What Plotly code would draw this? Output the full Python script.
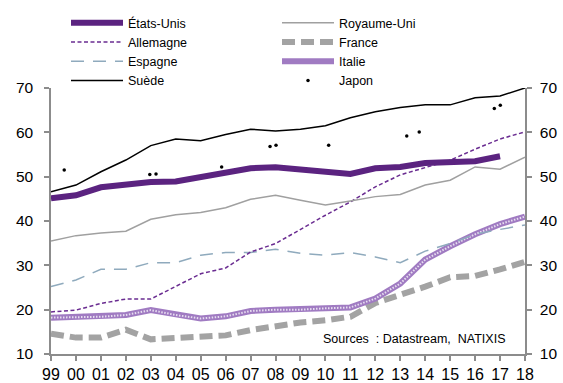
import plotly.graph_objects as go

years = list(range(1999, 2019))
year_labels = ["99", "00", "01", "02", "03", "04", "05", "06", "07", "08",
               "09", "10", "11", "12", "13", "14", "15", "16", "17", "18"]

etats_unis = [45.1, 45.8, 47.6, 48.3, 48.8, 48.9, 49.9, 51.1, 51.9, 52.1,
              51.5, 51.1, 50.6, 51.9, 52.2, 53.1, 53.2, 53.5, 54.6, None]
royaume_uni = [35.5, 36.7, 37.3, 37.7, 40.4, 41.4, 41.9, 43.0, 44.9, 45.8,
               44.7, 43.6, 44.5, 45.5, 46.0, 48.1, 49.2, 52.2, 51.7, 54.4]
allemagne = [19.5, 19.9, 21.4, 22.4, 22.4, 25.2, 28.1, 29.4, 33.0, 34.9,
             38.1, 41.3, 44.3, 47.7, 50.4, 52.1, 53.7, 56.2, 58.5, 60.1]
france = [14.6, 13.7, 13.7, 15.5, 13.3, 13.6, 14.0, 14.2, 15.4, 16.3,
          17.1, 17.6, 18.4, 21.5, 23.3, 25.2, 27.3, 27.6, 29.1, 30.8]
espagne = [25.2, 26.7, 29.1, 29.1, 30.6, 30.6, 32.3, 32.9, 32.9, 33.6,
           32.7, 32.3, 32.9, 31.9, 30.6, 33.2, 34.9, 37.0, 38.1, 39.1]
italie = [18.2, 18.3, 18.4, 18.8, 19.9, 18.8, 18.0, 18.5, 19.7, 20.0,
          20.0, 20.3, 20.5, 22.5, 25.9, 31.3, 34.3, 37.0, 39.3, 41.0]
suede = [46.6, 48.1, 51.1, 53.75, 57.0, 58.5, 58.1, 59.5, 60.7, 60.3,
         60.7, 61.5, 63.3, 64.65, 65.6, 66.2, 66.2, 67.8, 68.2, 70.0]

japon_x = [1999.53, 2002.96, 2003.21, 2005.84, 2007.78, 2008.02,
           2010.13, 2013.26, 2013.76, 2016.77, 2017.01]
japon_y = [51.5, 50.5, 50.6, 52.2, 56.8, 57.1, 57.1, 59.2, 60.1, 65.4, 66.1]

FONT = "Liberation Sans, Arial, sans-serif"

fig = go.Figure()

# Drawing order (back to front)
fig.add_trace(go.Scatter(x=years, y=france, mode="lines", name="France",
                         line=dict(color="#a3a3a3", width=6, dash="13px,6px"),
                         legend="legend2", legendrank=2))
fig.add_trace(go.Scatter(x=years, y=italie, mode="lines", name="Italie",
                         line=dict(color="#a07bc2", width=6),
                         legend="legend2", legendrank=3))
fig.add_trace(go.Scatter(x=years, y=italie, mode="lines", showlegend=False,
                         hoverinfo="skip",
                         line=dict(color="rgba(255,255,255,0.75)", width=2, dash="1.5px,1.5px")))
fig.add_trace(go.Scatter(x=years, y=espagne, mode="lines", name="Espagne",
                         line=dict(color="#8faabd", width=1.5, dash="13px,9px"),
                         legend="legend", legendrank=3))
fig.add_trace(go.Scatter(x=years, y=allemagne, mode="lines", name="Allemagne",
                         line=dict(color="#6a2c91", width=1.5, dash="4px,2.5px"),
                         legend="legend", legendrank=2))
fig.add_trace(go.Scatter(x=years, y=royaume_uni, mode="lines", name="Royaume-Uni",
                         line=dict(color="#a0a0a0", width=1.5),
                         legend="legend2", legendrank=1))
fig.add_trace(go.Scatter(x=years, y=suede, mode="lines", name="Suède",
                         line=dict(color="#000000", width=1.5),
                         legend="legend", legendrank=4))
fig.add_trace(go.Scatter(x=years, y=etats_unis, mode="lines", name="États-Unis",
                         line=dict(color="#5b2380", width=6),
                         legend="legend", legendrank=1))
fig.add_trace(go.Scatter(x=japon_x, y=japon_y, mode="markers", name="Japon",
                         marker=dict(color="#000000", size=3.5),
                         legend="legend2", legendrank=4, yaxis="y2"))

axis_color = "#8c8c8c"

fig.update_layout(
    width=563, height=383,
    margin=dict(l=51, r=38, t=88, b=29, autoexpand=False),
    paper_bgcolor="white", plot_bgcolor="white",
    font=dict(family=FONT, color="#000000"),
    showlegend=True,
    xaxis=dict(
        range=[1999, 2018], tickvals=years, ticktext=year_labels,
        showgrid=False, zeroline=False,
        showline=True, linecolor=axis_color, linewidth=1.5,
        ticks="outside", ticklen=5, tickcolor=axis_color, tickwidth=1.5,
        tickfont=dict(size=16, family=FONT, color="#000000"),
        ticklabelstandoff=0,
    ),
    yaxis=dict(
        range=[10, 70], tickvals=[10, 20, 30, 40, 50, 60, 70],
        showgrid=False, zeroline=False,
        showline=True, linecolor=axis_color, linewidth=1.5,
        ticks="outside", ticklen=5, tickcolor=axis_color, tickwidth=1.5,
        tickfont=dict(size=15.5, family=FONT, color="#000000"),
        ticklabelstandoff=8,
    ),
    yaxis2=dict(
        range=[10, 70], tickvals=[10, 20, 30, 40, 50, 60, 70],
        overlaying="y", side="right",
        showgrid=False, zeroline=False,
        showline=True, linecolor=axis_color, linewidth=1.5,
        ticks="outside", ticklen=5, tickcolor=axis_color, tickwidth=1.5,
        tickfont=dict(size=15.5, family=FONT, color="#000000"),
        ticklabelstandoff=5,
    ),
    legend=dict(
        xref="container", yref="container", x=66 / 563, y=1 - 8 / 383,
        xanchor="left", yanchor="top",
        orientation="v", itemwidth=52, traceorder="normal",
        font=dict(size=12.5, family=FONT, color="#000000"),
        bgcolor="rgba(0,0,0,0)", borderwidth=0,
    ),
    legend2=dict(
        xref="container", yref="container", x=277 / 563, y=1 - 8 / 383,
        xanchor="left", yanchor="top",
        orientation="v", itemwidth=52, traceorder="normal",
        font=dict(size=12.5, family=FONT, color="#000000"),
        bgcolor="rgba(0,0,0,0)", borderwidth=0,
    ),
    annotations=[dict(
        text="Sources  : Datastream,  NATIXIS",
        xref="paper", yref="paper", x=0.962, y=0.055,
        xanchor="right", yanchor="middle", showarrow=False,
        font=dict(size=12.5, family=FONT, color="#000000"),
    )],
)

fig.write_html("out.html")
